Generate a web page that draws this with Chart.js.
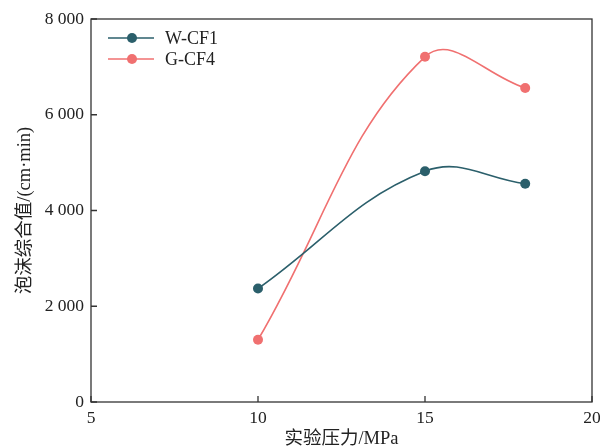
<!DOCTYPE html>
<html>
<head>
<meta charset="utf-8">
<script src="https://cdn.jsdelivr.net/npm/chart.js@4"></script>
<style>
  html, body { margin: 0; padding: 0; background: #fff; }
  #wrap { width: 600px; height: 447px; }
</style>
</head>
<body>
<div id="wrap"><canvas id="canvas" width="600" height="447"></canvas></div>
<script>
const pressure = [10, 15, 18]
const wcf1 = [2370, 4820, 4560]
const gcf4 = [1300, 7210, 6560]
const xTicks = [5, 10, 15, 20]
const yTicks = [0, 2000, 4000, 6000, 8000]

const serif = "'Liberation Serif', 'Times New Roman', 'Noto Sans CJK SC', serif"
const axisColor = '#333'

const fmt = v => String(v).replace(/\B(?=(\d{3})+(?!\d))/g, ' ')

// frame, inward ticks and the inside legend
const decor = {
    id: 'decor',
    afterDraw(chart) {
        const {ctx, chartArea: a, scales} = chart
        ctx.save()
        ctx.strokeStyle = axisColor
        ctx.lineWidth = 1.3
        ctx.strokeRect(a.left, a.top, a.right - a.left, a.bottom - a.top)
        ctx.beginPath()
        xTicks.forEach(t => {
            const x = scales.x.getPixelForValue(t)
            ctx.moveTo(x, a.bottom)
            ctx.lineTo(x, a.bottom - 6)
        })
        yTicks.forEach(t => {
            const y = scales.y.getPixelForValue(t)
            ctx.moveTo(a.left, y)
            ctx.lineTo(a.left + 6, y)
        })
        ctx.stroke()

        chart.data.datasets.forEach((ds, i) => {
            const y = 38 + i * 21
            ctx.strokeStyle = ds.borderColor
            ctx.lineWidth = 1.6
            ctx.beginPath()
            ctx.moveTo(108, y)
            ctx.lineTo(154, y)
            ctx.stroke()
            ctx.fillStyle = ds.borderColor
            ctx.beginPath()
            ctx.arc(132, y, 5, 0, Math.PI * 2)
            ctx.fill()
            ctx.fillStyle = '#222'
            ctx.font = "18px " + serif
            ctx.textBaseline = 'middle'
            ctx.fillText(ds.label, 165, y + 1)
        })
        ctx.restore()
    }
}

new Chart(document.getElementById('canvas').getContext('2d'), {
    type: 'line',
    data: {
        datasets: [
            {
                label: 'W-CF1',
                data: pressure.map((p, i) => ({x: p, y: wcf1[i]})),
                borderColor: '#2b5f6b',
                backgroundColor: '#2b5f6b',
            },
            {
                label: 'G-CF4',
                data: pressure.map((p, i) => ({x: p, y: gcf4[i]})),
                borderColor: '#f07070',
                backgroundColor: '#f07070',
            },
        ],
    },
    options: {
        responsive: false,
        animation: false,
        layout: {padding: {top: 19, right: 0, left: 0, bottom: 0}},
        elements: {
            line: {tension: 0.4, borderWidth: 1.6},
            point: {radius: 5, hoverRadius: 5, borderWidth: 0},
        },
        plugins: {
            legend: {display: false},
            tooltip: {enabled: false},
        },
        scales: {
            x: {
                type: 'linear',
                min: 5,
                max: 20,
                afterBuildTicks: s => { s.ticks = xTicks.map(v => ({value: v})) },
                afterFit: s => { s.height = 45; s.paddingRight = 8 },
                grid: {display: false, drawTicks: false},
                border: {display: false},
                ticks: {
                    padding: 6,
                    color: '#222',
                    font: {family: serif, size: 17.5},
                    maxRotation: 0,
                },
                title: {
                    display: true,
                    text: '实验压力/MPa',
                    color: '#222',
                    font: {family: serif, size: 18.5},
                    padding: {top: 0, bottom: -3},
                },
            },
            y: {
                min: 0,
                max: 8000,
                afterBuildTicks: s => { s.ticks = yTicks.map(v => ({value: v})) },
                afterFit: s => { s.width = 91 },
                grid: {display: false, drawTicks: false},
                border: {display: false},
                ticks: {
                    padding: 7,
                    color: '#222',
                    font: {family: serif, size: 17.5},
                    callback: v => fmt(v),
                },
                title: {
                    display: true,
                    text: '泡沫综合值/(cm·min)',
                    color: '#222',
                    font: {family: serif, size: 18.5},
                    padding: {top: 14, bottom: 0},
                },
            },
        },
    },
    plugins: [decor],
})
</script>
</body>
</html>
